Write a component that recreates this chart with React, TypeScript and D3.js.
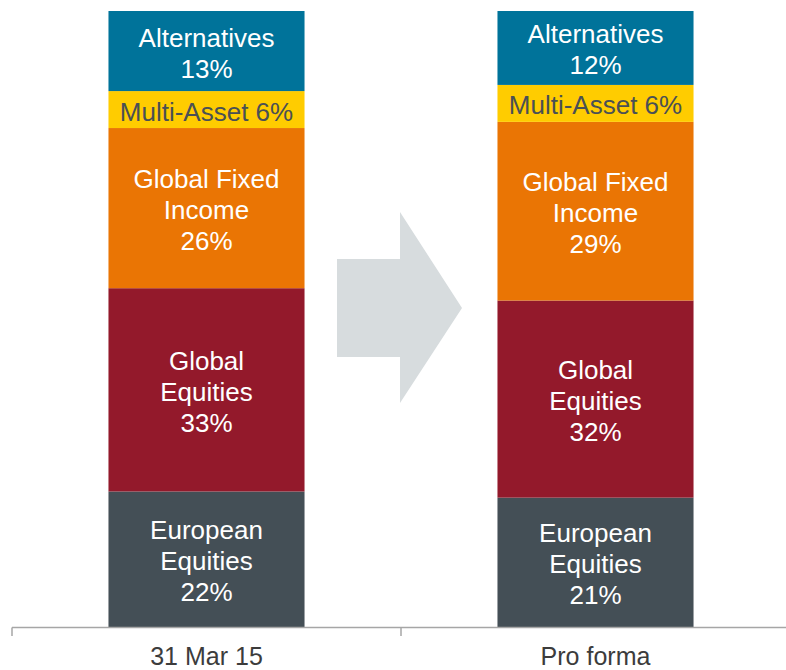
import React from "react";
import * as d3 from "d3";

const periods = ["31 Mar 15", "Pro forma"];
const segments = ["European Equities", "Global Equities", "Global Fixed Income", "Multi-Asset", "Alternatives"];
const values31Mar15 = [22, 33, 26, 6, 13];
const valuesProForma = [21, 32, 29, 6, 12];
const labelLines = [["European", "Equities"], ["Global", "Equities"], ["Global Fixed", "Income"], ["Multi-Asset"], ["Alternatives"]];
const inlineLabel = [false, false, false, true, false];
const colors = ["#444f56", "#93192b", "#ea7504", "#ffcc00", "#00739a"];
const textColors = ["#ffffff", "#ffffff", "#ffffff", "#4a5055", "#ffffff"];

const W = 786;
const H = 670;

export default function App() {
  const rows = periods.map((p, i) => {
    const vals = i === 0 ? values31Mar15 : valuesProForma;
    const r: any = { period: p };
    segments.forEach((s, j) => (r[s] = vals[j]));
    return r;
  });
  const stack = d3.stack<any>().keys(segments)(rows);
  const x = d3.scaleBand<string>().domain(periods).range([12, 790]).padding(0);
  const y = d3.scaleLinear().domain([0, 100]).range([627, 11]);
  const barW = x.bandwidth() * 0.504;
  const fs = 26;
  const lh = 31;

  const arrow = "M337,259 L400,259 L400,212 L462,308 L400,403 L400,357 L337,357 Z";

  return (
    <div style={{ position: "absolute", left: 0, top: 0 }}>
      <svg width={W} height={H} style={{ display: "block", fontFamily: "'Liberation Sans', Arial, sans-serif" }}>
        <path d={arrow} fill="#d7dcde" />
        {stack.map((layer, j) =>
          layer.map((d, i) => {
            const period = periods[i];
            const cx = (x(period) as number) + x.bandwidth() / 2;
            const y0 = y(d[1]);
            const y1 = y(d[0]);
            const val = d[1] - d[0];
            const lines = inlineLabel[j]
              ? [`${labelLines[j][0]} ${val}%`]
              : [...labelLines[j], `${val}%`];
            const mid = (y0 + y1) / 2;
            const startY = mid - ((lines.length - 1) * lh) / 2 + 11;
            return (
              <g key={`${j}-${i}`}>
                <rect x={cx - barW / 2} y={y0} width={barW} height={y1 - y0} fill={colors[j]} />
                <text textAnchor="middle" fill={textColors[j]} fontSize={fs}>
                  {lines.map((t, k) => (
                    <tspan key={k} x={cx} y={startY + k * lh}>
                      {t}
                    </tspan>
                  ))}
                </text>
              </g>
            );
          })
        )}
        <g stroke="#a6a6a6" strokeWidth={1.5} fill="none">
          <line x1={12} x2={790} y1={627.5} y2={627.5} />
          {[...periods.map((p) => x(p) as number), 790].map((tx, i) => (
            <line key={i} x1={tx} x2={tx} y1={627.5} y2={636} />
          ))}
        </g>
        {periods.map((p) => (
          <text
            key={p}
            x={(x(p) as number) + x.bandwidth() / 2}
            y={665}
            textAnchor="middle"
            fontSize={25}
            fill="#3c3c3c"
          >
            {p}
          </text>
        ))}
      </svg>
    </div>
  );
}
